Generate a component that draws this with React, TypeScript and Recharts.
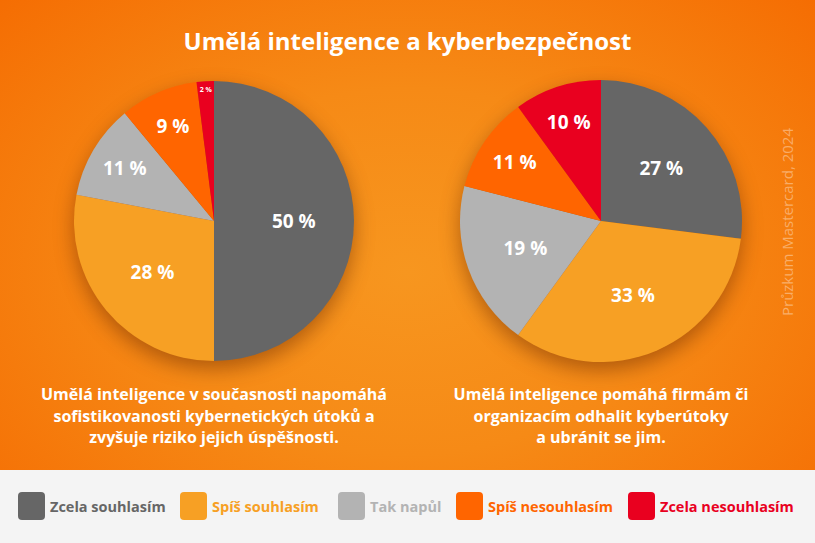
import { PieChart, Pie, Cell } from "recharts";

const categories = [
  "Zcela souhlasím",
  "Spíš souhlasím",
  "Tak napůl",
  "Spíš nesouhlasím",
  "Zcela nesouhlasím",
];
const colors = ["#666666", "#f7a024", "#b3b3b3", "#ff6500", "#e9001f"];

// AI helps attackers (left pie)
const attackValues = [50, 28, 11, 9, 2];
// AI helps defenders (right pie)
const defenseValues = [27, 33, 19, 11, 10];

const title = "Umělá inteligence a kyberbezpečnost";
const attackCaption = [
  "Umělá inteligence v současnosti napomáhá",
  "sofistikovanosti kybernetických útoků a",
  "zvyšuje riziko jejich úspěšnosti.",
];
const defenseCaption = [
  "Umělá inteligence pomáhá firmám či",
  "organizacím odhalit kyberútoky",
  "a ubránit se jim.",
];
const source = "Průzkum Mastercard, 2024";

const FONT = "'Open Sans', sans-serif";
const RADIAN = Math.PI / 180;

const toRows = (vals: number[]) =>
  vals.map((v, i) => ({ name: categories[i], value: v }));

function renderLabel(props: any) {
  const { cx, cy, midAngle, outerRadius, value } = props;
  const tiny = value < 5;
  const f = tiny ? 0.94 : value < 15 ? 0.74 : 0.57;
  const r = outerRadius * f;
  const x = cx + r * Math.cos(-midAngle * RADIAN);
  const y = cy + r * Math.sin(-midAngle * RADIAN);
  return (
    <text
      x={x}
      y={y}
      fill="#ffffff"
      textAnchor="middle"
      dominantBaseline="central"
      fontFamily={FONT}
      fontWeight={700}
      fontSize={tiny ? 7 : 19}
    >
      {value} %
    </text>
  );
}

function Caption({ lines, cx }: { lines: string[]; cx: number }) {
  return (
    <div
      style={{
        position: "absolute",
        left: cx - 200,
        top: 384,
        width: 400,
        textAlign: "center",
        color: "#fff",
        fontFamily: FONT,
        fontWeight: 700,
        fontSize: 16,
        lineHeight: "21.5px",
      }}
    >
      {lines.map((l) => (
        <div key={l}>{l}</div>
      ))}
    </div>
  );
}

export default function App() {
  return (
    <div
      style={{
        position: "relative",
        width: 815,
        height: 543,
        overflow: "hidden",
        background:
          "radial-gradient(ellipse 70% 75% at 50% 50%, #f7961f 0%, #f68a16 45%, #f56c02 100%)",
        fontFamily: FONT,
      }}
    >
      <style>{`body{margin:0} .recharts-pie{filter:drop-shadow(0 8px 10px rgba(90,30,0,0.45))}`}</style>
      <div
        style={{
          position: "absolute",
          top: 24,
          left: 0,
          width: 815,
          textAlign: "center",
          color: "#fff",
          fontWeight: 700,
          fontSize: 24,
        }}
      >
        {title}
      </div>

      <div style={{ position: "absolute", left: 0, top: 0 }}>
        <PieChart
          width={815}
          height={470}
          margin={{ top: 0, right: 0, bottom: 0, left: 0 }}
        >
          <Pie
            data={toRows(attackValues)}
            dataKey="value"
            cx={214}
            cy={221}
            outerRadius={140}
            startAngle={90}
            endAngle={-270}
            stroke="none"
            label={renderLabel}
            labelLine={false}
            isAnimationActive={false}
          >
            {attackValues.map((_, i) => (
              <Cell key={i} fill={colors[i]} />
            ))}
          </Pie>
          <Pie
            data={toRows(defenseValues)}
            dataKey="value"
            cx={601}
            cy={221}
            outerRadius={141}
            startAngle={90}
            endAngle={-270}
            stroke="none"
            label={renderLabel}
            labelLine={false}
            isAnimationActive={false}
          >
            {defenseValues.map((_, i) => (
              <Cell key={i} fill={colors[i]} />
            ))}
          </Pie>
        </PieChart>
      </div>

      <Caption lines={attackCaption} cx={214} />
      <Caption lines={defenseCaption} cx={601} />

      <div
        style={{
          position: "absolute",
          left: 787,
          top: 222,
          transform: "translate(-50%, -50%) rotate(-90deg)",
          whiteSpace: "nowrap",
          color: "rgba(255,255,255,0.38)",
          fontSize: 15,
        }}
      >
        {source}
      </div>

      <div
        style={{
          position: "absolute",
          left: 0,
          top: 470,
          width: 815,
          height: 73,
          background: "#f4f4f4",
        }}
      >
        {categories.map((c, i) => {
          const lefts = [18, 180, 338, 456, 628];
          return (
            <div
              key={c}
              style={{
                position: "absolute",
                left: lefts[i],
                top: 22,
                display: "flex",
                alignItems: "center",
                gap: 5,
              }}
            >
              <div
                style={{
                  width: 27,
                  height: 28,
                  borderRadius: 4,
                  background: colors[i],
                }}
              />
              <span style={{ color: colors[i], fontWeight: 700, fontSize: 14.5 }}>
                {c}
              </span>
            </div>
          );
        })}
      </div>
    </div>
  );
}
